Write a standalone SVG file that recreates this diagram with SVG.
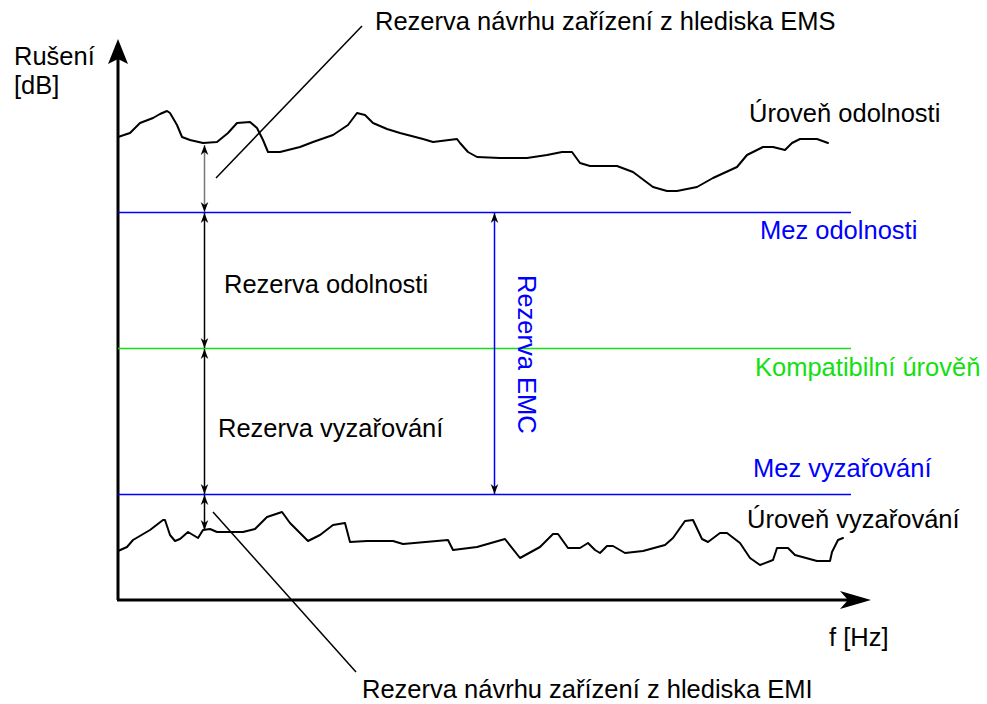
<svg xmlns="http://www.w3.org/2000/svg" width="987" height="704" viewBox="0 0 987 704">
<style>
text{font-family:"Liberation Sans",Arial,sans-serif;font-size:25.5px;fill:#000}
.blue{fill:#0000ff}
.green{fill:#11e011}
.curve{fill:none;stroke:#000;stroke-width:2;stroke-linejoin:round;stroke-linecap:round}
.lim{stroke-width:1.6}
.dim{stroke:#000;stroke-width:1.5;fill:none}
.lead{stroke:#000;stroke-width:1.5}
</style>
<defs>
<marker id="ah" viewBox="-10 -5 11 10" refX="0" refY="0" markerWidth="11" markerHeight="10" markerUnits="userSpaceOnUse" orient="auto-start-reverse">
<path d="M0,0 L-10,-3.8 L-7,0 L-10,3.8 Z" fill="#000"/>
</marker>
</defs>
<rect width="987" height="704" fill="#fff"/>
<g id="axes">
<line x1="118" y1="600" x2="118" y2="55" stroke="#000" stroke-width="3"/>
<polygon points="118,39 128,64 118,59 108,64" fill="#000"/>
<line x1="117" y1="600" x2="852" y2="600" stroke="#000" stroke-width="3"/>
<polygon points="871,600 840,591 848,600 840,609" fill="#000"/>
<text x="14" y="65">Rušení</text>
<text x="14" y="94">[dB]</text>
<text x="829" y="646">f [Hz]</text>
</g>
<g id="limits">
<line class="lim" x1="118" y1="212.5" x2="851" y2="212.5" stroke="#0000ff"/>
<line class="lim" x1="118" y1="348.5" x2="851" y2="348.5" stroke="#11e011"/>
<line class="lim" x1="118" y1="494.5" x2="851" y2="494.5" stroke="#0000ff"/>
<text class="blue" x="760" y="239">Mez odolnosti</text>
<text class="green" x="755" y="376">Kompatibilní úrověň</text>
<text class="blue" x="753" y="477">Mez vyzařování</text>
</g>
<g id="immunity-level">
<polyline class="curve" points="118,137 130,133 140,123 153,118 160,114 167,111 170,113 177,125 182,137 190,140 203,143 217,142 228,133 237,123 250,122 257,128 263,140 268,152 280,152 300,147 313,142 333,135 348,125 357,113 365,115 373,123 387,129 400,133 423,139 433,142 457,139 460,143 468,152 477,157 500,158 527,158 547,155 562,152 572,152 580,163 590,166 617,166 633,172 653,187 667,191 677,191 697,187 713,178 737,167 747,155 763,147 773,147 785,150 792,143 800,139 817,139 828,143"/>
<text x="749" y="122">Úroveň odolnosti</text>
</g>
<g id="emission-level">
<polyline class="curve" points="118,551 127,547 133,540 150,530 163,520 165,520 170,535 175,541 180,539 188,532 193,535 198,538 203,530 210,529 217,532 243,532 255,529 267,517 282,512 290,523 308,541 320,535 333,525 345,523 350,542 367,541 393,541 403,544 448,540 453,550 477,547 505,539 520,558 540,547 553,534 558,534 568,548 580,548 588,543 595,550 600,553 607,546 613,546 625,553 643,551 665,545 673,538 685,521 693,520 702,539 708,542 720,533 727,533 740,543 750,558 760,565 773,560 777,548 788,548 795,555 817,561 830,561 832,552 838,540 843,538"/>
<text x="747" y="528">Úroveň vyzařování</text>
</g>
<g id="connectors">
<line x1="204.5" y1="145" x2="204.5" y2="212" stroke="#777" stroke-width="1.5" marker-start="url(#ah)" marker-end="url(#ah)"/>
<line class="dim" x1="204.5" y1="213" x2="204.5" y2="348" marker-start="url(#ah)" marker-end="url(#ah)"/>
<line class="dim" x1="204.5" y1="349" x2="204.5" y2="494" marker-start="url(#ah)" marker-end="url(#ah)"/>
<line class="dim" x1="204.5" y1="495" x2="204.5" y2="530" marker-start="url(#ah)" marker-end="url(#ah)"/>
<line x1="494.5" y1="213" x2="494.5" y2="494" stroke="#0000ff" stroke-width="1.5" marker-start="url(#ah)" marker-end="url(#ah)"/>
<line class="lead" x1="216" y1="178" x2="362" y2="26"/>
<line class="lead" x1="213" y1="512" x2="356" y2="672"/>
</g>
<g id="labels">
<text x="224" y="293">Rezerva odolnosti</text>
<text x="218" y="437">Rezerva vyzařování</text>
<text class="blue" transform="translate(518,275) rotate(90)">Rezerva EMC</text>
<text x="375" y="30">Rezerva návrhu zařízení z hlediska EMS</text>
<text x="362" y="698">Rezerva návrhu zařízení z hlediska EMI</text>
</g>
</svg>
